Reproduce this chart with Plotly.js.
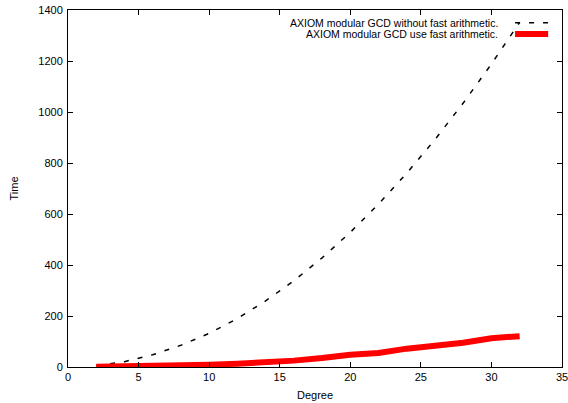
<!DOCTYPE html>
<html><head><meta charset="utf-8">
<script src="https://cdn.plot.ly/plotly-3.0.1.min.js"></script>
<style>html,body{margin:0;padding:0;background:#fff}#plot{width:568px;height:403px}</style>
</head><body><div id="plot"></div>
<script>
const degree = [2,4,6,8,10,12,14,16,18,20,22,24,26,28,30,32];
const timeSlow = [5,21,48,85,132,190,259,338,428,528,639,760,892,1035,1188,1352];
const timeFast = [1,2,4,6,9,13,18,25,35,48,55,72,83,95,113,121];
const seriesNames = ["AXIOM modular GCD without fast arithmetic.","AXIOM modular GCD use fast arithmetic."];
const xTicks = [0,5,10,15,20,25,30,35];
const yTicks = [0,200,400,600,800,1000,1200,1400];

const font = {family:"Liberation Sans, Arial, sans-serif", size:11, color:"#000"};
const legFont = {family:"Liberation Sans, Arial, sans-serif", size:10.5, color:"#000"};
const traces = [
  {x:degree, y:timeSlow, mode:"lines", name:seriesNames[0], line:{color:"#000", width:1.5, dash:"5px,9px"}, showlegend:false},
  {x:degree, y:timeFast, mode:"lines", name:seriesNames[1], line:{color:"#ff0000", width:6}, showlegend:false}
];
const axisCommon = {showline:true, linecolor:"#000", linewidth:1, mirror:"allticks", ticks:"inside", ticklen:5, tickcolor:"#000", showgrid:false, zeroline:false, tickfont:font, ticklabeloverflow:"allow"};
const layout = {
  width:568, height:403,
  margin:{l:68, r:6, t:10, b:36},
  paper_bgcolor:"#fff", plot_bgcolor:"#fff",
  font:font,
  xaxis:Object.assign({}, axisCommon, {range:[0,35], tickvals:xTicks, ticktext:xTicks.map(String), title:{text:"Degree", font:font, standoff:9}}),
  yaxis:Object.assign({}, axisCommon, {range:[0,1400], tickvals:yTicks, ticktext:yTicks.map(String), ticklabelstandoff:2, title:{text:"Time", font:font, standoff:17}}),
  annotations:[
    {xref:"paper", yref:"paper", x:0.8745, y:0.9644, xanchor:"right", yanchor:"middle", text:seriesNames[0], showarrow:false, font:legFont},
    {xref:"paper", yref:"paper", x:0.8745, y:0.9328, xanchor:"right", yanchor:"middle", text:seriesNames[1], showarrow:false, font:legFont}
  ],
  shapes:[
    {type:"line", xref:"paper", yref:"paper", x0:0.905, x1:0.972, y0:0.9644, y1:0.9644, line:{color:"#000", width:1.5, dash:"5px,9px"}},
    {type:"line", xref:"paper", yref:"paper", x0:0.905, x1:0.972, y0:0.9328, y1:0.9328, line:{color:"#ff0000", width:6}}
  ]
};
Plotly.newPlot("plot", traces, layout, {staticPlot:true, displayModeBar:false});
</script></body></html>
